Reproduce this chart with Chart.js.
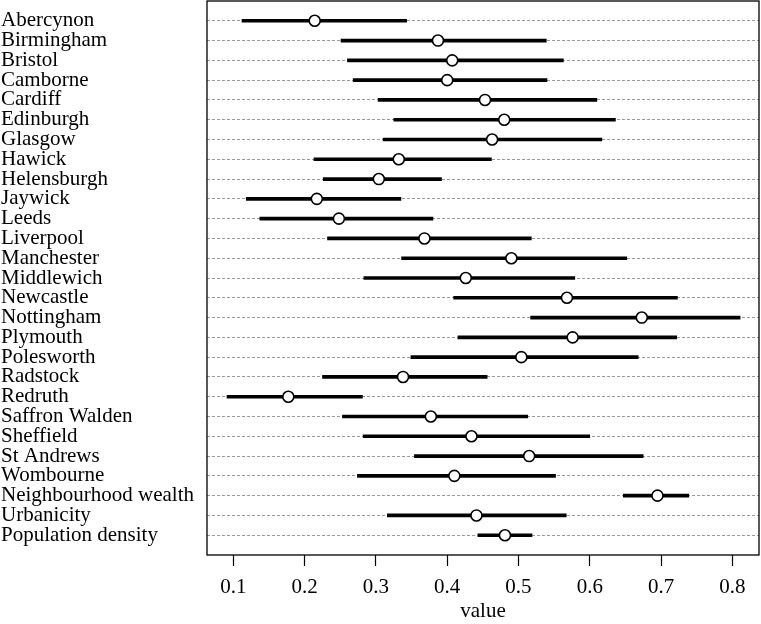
<!DOCTYPE html>
<html>
<head>
<meta charset="utf-8">
<script src="https://cdn.jsdelivr.net/npm/chart.js@4/dist/chart.umd.min.js"></script>
<style>
  html, body { margin: 0; padding: 0; background: #ffffff; }
  #wrap { width: 761px; height: 624px; }
</style>
</head>
<body>
<div id="wrap"><canvas id="c" width="761" height="624"></canvas></div>
<script>
const categories = [
  "Abercynon", "Birmingham", "Bristol", "Camborne", "Cardiff", "Edinburgh",
  "Glasgow", "Hawick", "Helensburgh", "Jaywick", "Leeds", "Liverpool",
  "Manchester", "Middlewich", "Newcastle", "Nottingham", "Plymouth",
  "Polesworth", "Radstock", "Redruth", "Saffron Walden", "Sheffield",
  "St Andrews", "Wombourne", "Neighbourhood wealth", "Urbanicity",
  "Population density"
];
const estimates = [
  0.214, 0.387, 0.407, 0.400, 0.453, 0.480,
  0.463, 0.332, 0.304, 0.217, 0.248, 0.368,
  0.490, 0.426, 0.568, 0.673, 0.576,
  0.504, 0.338, 0.177, 0.377, 0.434,
  0.515, 0.410, 0.695, 0.441,
  0.481
];
const lower = [
  0.112, 0.251, 0.260, 0.268, 0.303, 0.325,
  0.310, 0.213, 0.226, 0.118, 0.137, 0.232,
  0.336, 0.283, 0.409, 0.517, 0.415,
  0.349, 0.225, 0.091, 0.253, 0.282,
  0.354, 0.274, 0.647, 0.316,
  0.443
];
const upper = [
  0.343, 0.539, 0.563, 0.540, 0.610, 0.636,
  0.617, 0.462, 0.392, 0.335, 0.380, 0.518,
  0.652, 0.579, 0.723, 0.811, 0.722,
  0.668, 0.456, 0.281, 0.513, 0.600,
  0.675, 0.552, 0.739, 0.567,
  0.519
];
const xTicks = [0.1, 0.2, 0.3, 0.4, 0.5, 0.6, 0.7, 0.8];
const xTitle = "value";

const FONT = "'Liberation Serif', 'Times New Roman', serif";
Chart.defaults.font.family = FONT;
Chart.defaults.font.size = 21;
Chart.defaults.color = '#000000';

const boxPlugin = {
  id: 'boxPlugin',
  beforeDraw(chart) {
    const ctx = chart.ctx;
    ctx.save();
    ctx.fillStyle = '#ffffff';
    ctx.fillRect(0, 0, chart.width, chart.height);
    ctx.restore();
  },
  afterDatasetsDraw(chart) {
    const { ctx, chartArea: a } = chart;
    ctx.save();
    ctx.strokeStyle = '#000000';
    ctx.lineWidth = 1.3;
    ctx.strokeRect(a.left, a.top, a.right - a.left, a.bottom - a.top);
    ctx.restore();
  }
};

const rows = categories.map((_, i) => i + 1);

function zeroPad(scale) {
  scale.paddingTop = 0;
  scale.paddingBottom = 0;
  scale.paddingLeft = 0;
  scale.paddingRight = 0;
}

new Chart(document.getElementById('c'), {
  type: 'bar',
  data: {
    datasets: [
      {
        type: 'scatter',
        order: 0,
        data: estimates.map((v, i) => ({ x: v, y: rows[i] })),
        pointStyle: 'circle',
        pointRadius: 5.5,
        pointBorderWidth: 1.6,
        pointBorderColor: '#000000',
        pointBackgroundColor: '#ffffff',
        showLine: false
      },
      {
        type: 'bar',
        order: 1,
        indexAxis: 'y',
        data: lower.map((lo, i) => ({ x: [lo, upper[i]], y: rows[i] })),
        backgroundColor: '#000000',
        borderWidth: 0,
        barThickness: 3,
        grouped: false
      }
    ]
  },
  options: {
    indexAxis: 'y',
    responsive: false,
    animation: false,
    devicePixelRatio: 1,
    events: [],
    layout: { autoPadding: false, padding: { left: 1, right: 2, top: 1, bottom: 0 } },
    plugins: { legend: { display: false }, tooltip: { enabled: false } },
    scales: {
      x: {
        type: 'linear',
        position: 'bottom',
        offset: false,
        min: 0.0629,
        max: 0.8375,
        afterBuildTicks(scale) { scale.ticks = xTicks.map(v => ({ value: v })); },
        afterFit(scale) { scale.height = 69; zeroPad(scale); },
        ticks: {
          callback: (v) => Number(v).toFixed(1),
          padding: 9,
          color: '#000000',
          font: { size: 21, family: FONT },
          maxRotation: 0,
          autoSkip: false,
          includeBounds: false
        },
        grid: {
          display: true,
          offset: false,
          drawOnChartArea: false,
          drawTicks: true,
          tickLength: 11,
          tickColor: '#000000',
          tickWidth: 1.2
        },
        border: { display: false },
        title: {
          display: true,
          text: xTitle,
          color: '#000000',
          font: { size: 21, family: FONT },
          padding: { top: 0, bottom: 0 }
        }
      },
      y: {
        type: 'linear',
        position: 'left',
        offset: false,
        reverse: true,
        min: 0,
        max: categories.length + 1,
        afterBuildTicks(scale) {
          const t = [];
          for (let v = 0; v <= categories.length + 1; v++) t.push({ value: v });
          scale.ticks = t;
        },
        afterFit(scale) { scale.width = 206; zeroPad(scale); },
        ticks: {
          autoSkip: false,
          crossAlign: 'far',
          padding: 0,
          color: '#000000',
          font: { size: 21, family: FONT },
          callback: (v) => (v >= 1 && v <= categories.length) ? categories[v - 1] : null
        },
        grid: {
          display: true,
          offset: false,
          drawOnChartArea: true,
          drawTicks: false,
          tickLength: 0,
          color: '#9a9a9a',
          lineWidth: 1
        },
        border: { display: false, dash: [3, 2] }
      }
    }
  },
  plugins: [boxPlugin]
});
</script>
</body>
</html>
